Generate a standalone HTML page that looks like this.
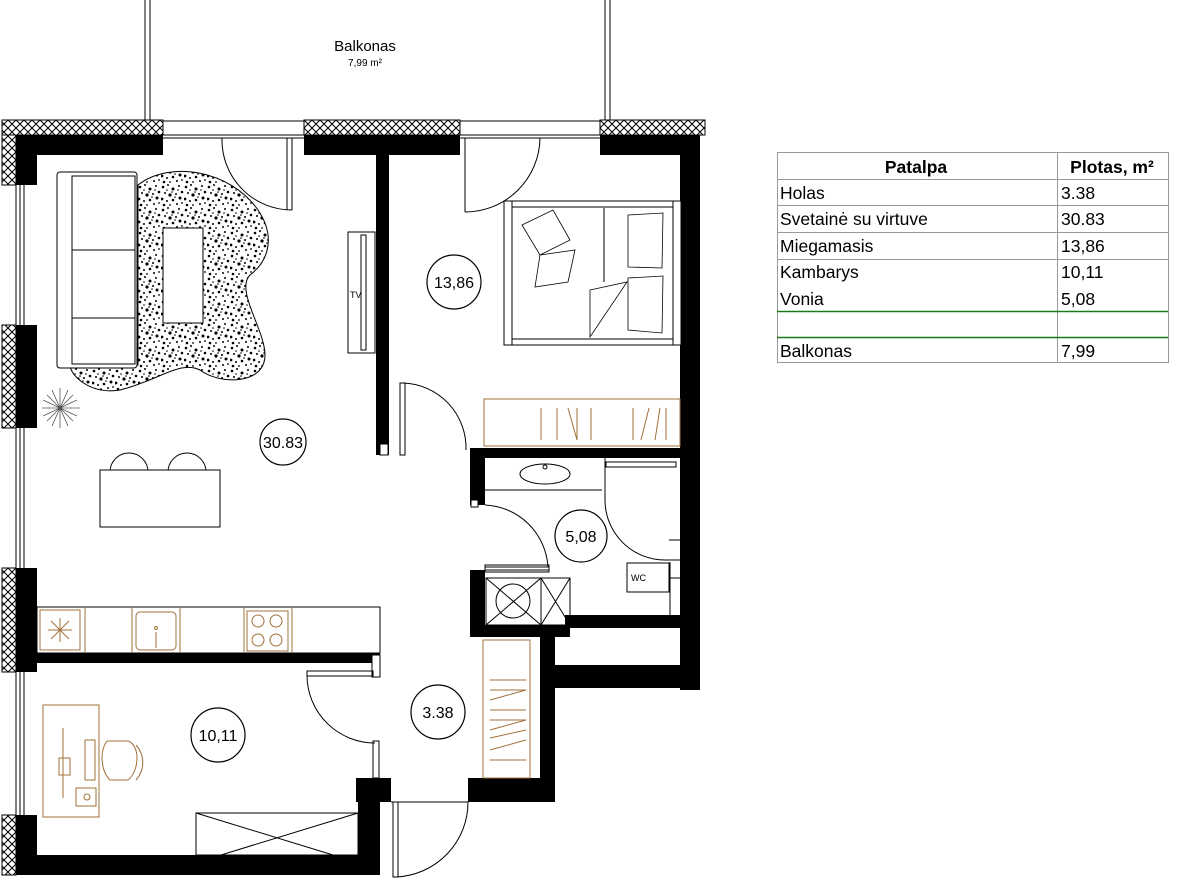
<!DOCTYPE html>
<html><head><meta charset="utf-8"><style>
html,body{margin:0;padding:0;background:#fff}
svg{display:block}
text{font-family:"Liberation Sans",sans-serif}
</style></head><body>
<svg width="1200" height="880" viewBox="0 0 1200 880" xmlns="http://www.w3.org/2000/svg">
<defs>
<pattern id="hx" width="8" height="8" patternUnits="userSpaceOnUse">
<rect width="8" height="8" fill="#fff"/>
<path d="M0 0L8 8M8 0L0 8" stroke="#000" stroke-width="1"/>
</pattern>
<pattern id="sp" width="23" height="23" patternUnits="userSpaceOnUse">
<rect width="23" height="23" fill="#fff"/>
<g fill="#000">
<circle cx="2" cy="3" r="1.3"/><circle cx="7" cy="1" r="1"/><circle cx="12" cy="5" r="1.5"/><circle cx="18" cy="2" r="1"/><circle cx="21" cy="8" r="1.3"/>
<circle cx="4" cy="9" r="1"/><circle cx="9" cy="11" r="1.6"/><circle cx="15" cy="10" r="1"/><circle cx="19" cy="14" r="1.5"/><circle cx="1" cy="15" r="1.4"/>
<circle cx="6" cy="17" r="1"/><circle cx="12" cy="16" r="1.3"/><circle cx="16" cy="20" r="1"/><circle cx="3" cy="21" r="1.3"/><circle cx="9" cy="21" r="0.9"/>
<circle cx="21" cy="19" r="0.9"/><circle cx="14" cy="13" r="0.8"/><circle cx="6" cy="6" r="0.8"/><circle cx="17" cy="6" r="0.8"/><circle cx="11" cy="8" r="0.8"/>
</g>
</pattern>
</defs>

<!-- Balcony -->
<g fill="none" stroke="#000" stroke-width="1">
<path d="M145 0V122M150 0V122M605 0V122M610 0V122"/>
</g>
<text x="365" y="51" font-size="15" text-anchor="middle">Balkonas</text>
<text x="365" y="66" font-size="10" text-anchor="middle">7,99 m²</text>

<g fill="none" stroke="#000" stroke-width="1">
<path d="M163 121H304M163 135H304M163 138H304M460 121H600M460 135H600M460 138H600"/>
</g>
<g fill="url(#hx)" stroke="#000" stroke-width="1">
<rect x="2" y="120" width="161" height="15"/>
<rect x="304" y="120" width="156" height="15"/>
<rect x="600" y="120" width="105" height="15"/>
<rect x="2" y="135" width="14" height="50"/>
<rect x="2" y="325" width="14" height="103"/>
<rect x="2" y="568" width="14" height="104"/>
<rect x="2" y="815" width="14" height="60"/>
</g>
<g fill="none" stroke="#000" stroke-width="1">
<path d="M16 185V325M20 185V325M24 185V325M16 428V568M20 428V568M24 428V568M16 672V815M20 672V815M24 672V815"/>
</g>

<g fill="#000">
<rect x="16" y="135" width="147" height="20"/>
<rect x="16" y="135" width="21" height="50"/>
<rect x="304" y="135" width="156" height="20"/>
<rect x="600" y="135" width="100" height="20"/>
<rect x="680" y="135" width="20" height="555"/>
<rect x="16" y="325" width="21" height="103"/>
<rect x="16" y="568" width="21" height="104"/>
<rect x="16" y="815" width="21" height="60"/>
<rect x="16" y="855" width="364" height="20"/>
<rect x="358" y="778" width="22" height="97"/>
<rect x="356" y="778" width="35" height="24"/>
<rect x="376" y="155" width="13" height="300"/>
<rect x="37" y="653" width="343" height="10"/>
<rect x="470" y="448" width="210" height="10"/>
<rect x="470" y="448" width="15" height="57"/>
<rect x="470" y="570" width="15" height="67"/>
<rect x="470" y="625" width="100" height="12"/>
<rect x="565" y="615" width="115" height="13"/>
<rect x="540" y="630" width="15" height="172"/>
<rect x="550" y="665" width="150" height="23"/>
<rect x="468" y="778" width="87" height="24"/>
</g>
<g fill="#fff" stroke="#000" stroke-width="1">
<rect x="372" y="655" width="8" height="22"/>
<rect x="471" y="500" width="7" height="7"/>
<rect x="380" y="444" width="8" height="11"/>
</g>

<g fill="none" stroke="#000" stroke-width="1">
<path d="M292 138V210M287 138V210M222 138A70 70 0 0 0 292 210"/>
<path d="M465 138V212M540 138A75 75 0 0 1 465 212"/>
<rect x="400" y="383" width="5" height="72"/>
<path d="M403 383A65 65 0 0 1 466 450"/>
<path d="M485 505A66 66 0 0 1 548 567"/>
<rect x="485" y="567" width="64" height="5"/>
<rect x="307" y="671" width="66" height="5"/>
<path d="M307 675A68 68 0 0 0 375 743"/>
<rect x="373" y="741" width="6" height="37"/>
<path d="M391 802H468"/>
<rect x="393" y="802" width="5" height="75"/>
<path d="M468 802A75 75 0 0 1 396 877"/>
<path d="M605 458V500A60 60 0 0 0 665 560H680"/>
</g>

<!-- rug -->
<path d="M138 185C170 160 230 170 258 210C275 235 270 260 250 275C235 290 265 330 265 355C265 385 220 385 200 370C180 360 160 380 120 390C90 395 70 375 70 365L138 365Z" fill="url(#sp)" stroke="#000" stroke-width="1"/>
<rect x="57" y="172" width="80" height="196" rx="3" fill="#fff" stroke="#000"/>
<rect x="72" y="176" width="63" height="188" fill="none" stroke="#000"/>
<path d="M72 250H135M72 318H135" stroke="#000"/>
<rect x="163" y="228" width="40" height="95" fill="#fff" stroke="#000"/>
<g stroke="#555" stroke-width="0.8" fill="none">
<path d="M60 388L60 428M42 408H80M47 395L73 421M73 395L47 421M52 390L68 426M68 390L52 426M43 400L77 416M43 416L77 400"/>
</g>
<rect x="348" y="232" width="27" height="121" fill="#fff" stroke="#000"/>
<rect x="361" y="235" width="5" height="115" fill="none" stroke="#000"/>
<text x="350" y="298" font-size="9">TV</text>

<g fill="#fff" stroke="#000" stroke-width="1">
<path d="M110 472A19 19 0 0 1 148 472Z"/>
<path d="M168 472A19 19 0 0 1 206 472Z"/>
<rect x="100" y="470" width="120" height="57"/>
</g>

<rect x="37" y="607" width="343" height="46" fill="#fff" stroke="#000"/>
<g fill="none" stroke="#a0703a" stroke-width="1">
<path d="M85 607V653M132 607V653M180 607V653M244 607V653M292 607V653"/>
<rect x="40" y="610" width="40" height="40"/>
<path d="M48 630H72M60 618V642M51 621L69 639M69 621L51 639"/>
<rect x="136" y="612" width="40" height="38" rx="4"/>
<path d="M156 632V648"/><circle cx="156" cy="628" r="1.5"/>
<rect x="247" y="611" width="41" height="40"/>
<circle cx="258" cy="621" r="6"/><circle cx="276" cy="621" r="6"/><circle cx="258" cy="640" r="6"/><circle cx="276" cy="640" r="6"/>
</g>

<g fill="#fff" stroke="#000" stroke-width="1">
<rect x="504" y="201" width="177" height="144"/>
<rect x="512" y="201" width="161" height="144"/>
<path d="M512 207H673M512 339H673M604 208V282"/>
</g>
<g fill="none" stroke="#000" stroke-width="0.8">
<path d="M522 225L553 210L570 240L540 255Z M540 255L575 250L568 282L535 287Z"/>
<path d="M628 215L663 213L662 268L628 267Z M628 278L663 276L662 333L628 330Z"/>
<path d="M590 290L627 282L590 337Z"/>
</g>

<rect x="484" y="399" width="196" height="47" fill="none" stroke="#a0703a"/>
<path d="M541 408V440M557 408V440M568 408L577 440M577 408V440M591 408V440M633 408V440M641 440L649 408M655 440L660 408M666 408V440" stroke="#a0703a" fill="none"/>

<g fill="none" stroke="#000" stroke-width="1">
<path d="M485 490H602"/>
<ellipse cx="545" cy="474" rx="25" ry="10"/>
<circle cx="545" cy="467" r="2"/>
<rect x="606" y="462" width="70" height="5"/>
<rect x="627" y="563" width="42" height="29"/>
<path d="M669 540H680M669 578H680M670 562V615"/>
<rect x="485" y="565" width="64" height="5"/>
<rect x="486" y="578" width="55" height="47"/>
<path d="M486 578L541 625M541 578L486 625M541 578L570 625M570 578L541 625"/>
<rect x="541" y="578" width="29" height="47"/>
<circle cx="513" cy="601" r="17"/>
</g>
<text x="631" y="581" font-size="9">WC</text>

<rect x="483" y="640" width="47" height="138" fill="none" stroke="#a0703a"/>
<path d="M490 680H526M490 690H526M490 700L526 690M490 710H526M490 720H526M490 730L526 720M490 738L526 730M490 750L526 740M490 760H526" stroke="#a0703a" fill="none"/>

<g fill="none" stroke="#a0703a" stroke-width="1">
<rect x="43" y="705" width="56" height="112"/>
<path d="M63 728V798M59 775H70V758H59Z"/>
<rect x="85" y="740" width="10" height="40"/>
<path d="M107 741H128C140 745 140 770 128 780H110C100 770 100 750 107 741Z"/>
<path d="M136 745C145 755 145 770 136 780"/>
<rect x="76" y="788" width="20" height="18"/>
<circle cx="87" cy="797" r="3"/>
</g>
<g fill="none" stroke="#000" stroke-width="1">
<rect x="196" y="813" width="162" height="42"/>
<path d="M196 813L333 855M358 813L221 855"/>
</g>

<g fill="#fff" stroke="#000" stroke-width="1.2">
<circle cx="283" cy="442" r="23"/>
<circle cx="454" cy="282" r="27"/>
<circle cx="581" cy="536" r="26"/>
<circle cx="218" cy="735" r="27"/>
<circle cx="438" cy="712" r="27"/>
</g>
<g font-size="16" text-anchor="middle">
<text x="283" y="448">30.83</text>
<text x="454" y="288">13,86</text>
<text x="581" y="542">5,08</text>
<text x="218" y="741">10,11</text>
<text x="438" y="718">3.38</text>
</g>

<g fill="none" stroke="#999" stroke-width="1">
<rect x="777.5" y="152.5" width="391" height="210"/>
<path d="M777 179.5H1168M777 205.5H1168M777 232.5H1168M777 259.5H1168M1057.5 152V362"/>
</g>
<path d="M777 311.5H1168M777 337.5H1168" stroke="#1a7a1a" stroke-width="1.5"/>
<g font-size="17.5">
<text x="916" y="173" text-anchor="middle" font-weight="bold">Patalpa</text>
<text x="1112" y="173" text-anchor="middle" font-weight="bold">Plotas, m²</text>
<text x="780" y="199">Holas</text><text x="1061" y="199">3.38</text>
<text x="780" y="225">Svetainė su virtuve</text><text x="1061" y="225">30.83</text>
<text x="780" y="252">Miegamasis</text><text x="1061" y="252">13,86</text>
<text x="780" y="278">Kambarys</text><text x="1061" y="278">10,11</text>
<text x="780" y="305">Vonia</text><text x="1061" y="305">5,08</text>
<text x="780" y="357">Balkonas</text><text x="1061" y="357">7,99</text>
</g>
</svg>
</body></html>
